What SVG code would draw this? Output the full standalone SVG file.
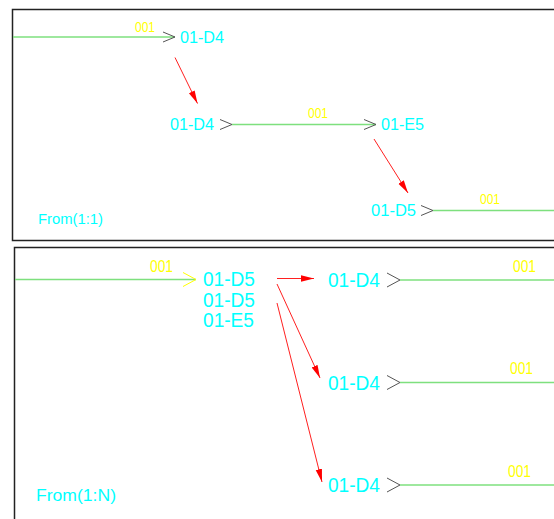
<svg xmlns="http://www.w3.org/2000/svg" width="554" height="519" viewBox="0 0 554 519">
<defs>
<style>
.frame{fill:none;stroke:#222;stroke-width:1.5}
.flow{stroke:#7ee07e;stroke-width:1.5;fill:none}
.chev{stroke:#555;stroke-width:1;fill:none}
.chevy{stroke:#ffff00;stroke-width:1;fill:none}
.link{stroke:#ff2020;stroke-width:1;fill:none;marker-end:url(#ah)}
.lbl{font-family:"Liberation Sans",Arial,sans-serif;fill:#00ffff}
.num{font-family:"Liberation Sans",Arial,sans-serif;fill:#ffff00}
</style>
<marker id="ah" markerUnits="userSpaceOnUse" markerWidth="14" markerHeight="8" refX="13" refY="4" orient="auto" viewBox="0 0 14 8">
<path d="M0,0.8 L13,4 L0,7.2 z" fill="#ff0000"/>
</marker>
</defs>
<rect width="554" height="519" fill="#ffffff"/>
<g id="frames">
<rect class="frame" x="12.5" y="9.5" width="560" height="231"/>
<rect class="frame" x="14.5" y="247.5" width="560" height="290"/>
</g>
<g id="connectors">
<line class="flow" x1="13" y1="37" x2="175" y2="37"/>
<line class="flow" x1="232" y1="124.5" x2="376" y2="124.5"/>
<line class="flow" x1="433" y1="210.5" x2="554" y2="210.5"/>
<line class="flow" x1="15" y1="279.5" x2="196" y2="279.5"/>
<line class="flow" x1="400" y1="280" x2="554" y2="280"/>
<line class="flow" x1="400" y1="382.5" x2="554" y2="382.5"/>
<line class="flow" x1="400" y1="485" x2="554" y2="485"/>
<polyline class="chev" points="163,32 175,37 163,42"/>
<polyline class="chev" points="220,119.5 232,124.5 220,129.5"/>
<polyline class="chev" points="364,119.5 376,124.5 364,129.5"/>
<polyline class="chev" points="421,205.5 433,210.5 421,215.5"/>
<polyline class="chevy" points="183,272.5 196,279.5 183,286.5"/>
<polyline class="chev" points="387,273 400,280 387,287"/>
<polyline class="chev" points="387,375.5 400,382.5 387,389.5"/>
<polyline class="chev" points="387,478 400,485 387,492"/>
<line class="link" x1="175" y1="57.5" x2="197.5" y2="103.5"/>
<line class="link" x1="374" y1="139" x2="408" y2="193"/>
<line class="link" x1="277" y1="278.5" x2="314" y2="278.5"/>
<line class="link" x1="277" y1="284" x2="320" y2="378"/>
<line class="link" x1="277" y1="303" x2="322" y2="482"/>
</g>
<g id="labels-top">
<text class="num" x="135" y="32" font-size="15" textLength="20" lengthAdjust="spacingAndGlyphs">001</text>
<text class="num" x="308" y="118" font-size="15" textLength="20" lengthAdjust="spacingAndGlyphs">001</text>
<text class="num" x="480" y="204" font-size="15" textLength="20" lengthAdjust="spacingAndGlyphs">001</text>
<text class="lbl" x="180" y="43" font-size="16" textLength="44" lengthAdjust="spacingAndGlyphs">01-D4</text>
<text class="lbl" x="170" y="129.5" font-size="16" textLength="44" lengthAdjust="spacingAndGlyphs">01-D4</text>
<text class="lbl" x="381" y="129.5" font-size="16" textLength="43" lengthAdjust="spacingAndGlyphs">01-E5</text>
<text class="lbl" x="371" y="215.5" font-size="16" textLength="45" lengthAdjust="spacingAndGlyphs">01-D5</text>
<text class="lbl" x="38" y="224" font-size="14" textLength="65" lengthAdjust="spacingAndGlyphs">From(1:1)</text>
</g>
<g id="labels-bottom">
<text class="num" x="150" y="272" font-size="16.5" textLength="23" lengthAdjust="spacingAndGlyphs">001</text>
<text class="num" x="513" y="272" font-size="16.5" textLength="23" lengthAdjust="spacingAndGlyphs">001</text>
<text class="num" x="510" y="374" font-size="16.5" textLength="23" lengthAdjust="spacingAndGlyphs">001</text>
<text class="num" x="508" y="477" font-size="16.5" textLength="23" lengthAdjust="spacingAndGlyphs">001</text>
<text class="lbl" x="203" y="286" font-size="19.5" textLength="52" lengthAdjust="spacingAndGlyphs">01-D5</text>
<text class="lbl" x="203" y="306.5" font-size="19.5" textLength="52" lengthAdjust="spacingAndGlyphs">01-D5</text>
<text class="lbl" x="203" y="327" font-size="19.5" textLength="51" lengthAdjust="spacingAndGlyphs">01-E5</text>
<text class="lbl" x="328" y="287" font-size="19.5" textLength="52" lengthAdjust="spacingAndGlyphs">01-D4</text>
<text class="lbl" x="328" y="389.5" font-size="19.5" textLength="52" lengthAdjust="spacingAndGlyphs">01-D4</text>
<text class="lbl" x="328" y="492" font-size="19.5" textLength="52" lengthAdjust="spacingAndGlyphs">01-D4</text>
<text class="lbl" x="36" y="501" font-size="16.5" textLength="80" lengthAdjust="spacingAndGlyphs">From(1:N)</text>
</g>
</svg>
